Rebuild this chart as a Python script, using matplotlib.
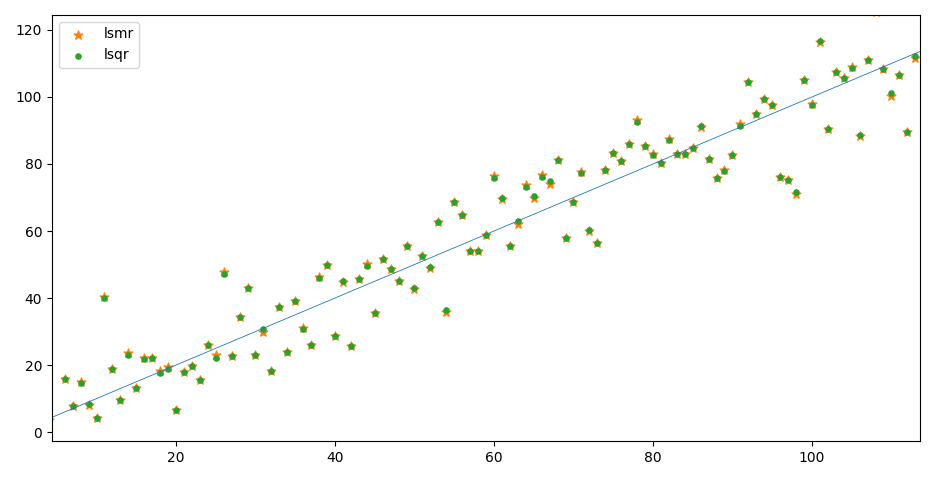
import numpy as np
from matplotlib import pyplot as plt

# x positions of the samples (x=5 has no visible point)
x = np.arange(4, 114)
nan = np.nan

# lsmr solution values (orange stars)
y_lsmr = [3.6, nan, 15.8, 7.8, 14.8, 8.2, 4.2, 40.2, 18.8, 9.6,
          23.6, 13.3, 22.0, 22.0, 18.2, 19.4, 6.7, 17.9, 19.7, 15.5,
          26.1, 22.9, 47.7, 22.7, 34.3, 43.0, 22.9, 29.9, 18.3, 37.4,
          23.9, 39.2, 31.2, 26.1, 46.2, 49.9, 28.7, 44.8, 25.8, 45.7,
          50.1, 35.4, 51.7, 48.7, 45.0, 55.4, 42.6, 52.5, 49.1, 62.6,
          35.7, 68.7, 64.9, 54.1, 54.0, 58.7, 76.5, 69.5, 55.6, 62.2,
          73.7, 70.0, 76.6, 74.0, 81.1, 58.0, 68.7, 77.6, 59.9, 56.3,
          78.2, 83.3, 81.0, 86.1, 93.2, 85.4, 82.9, 80.2, 87.6, 82.9,
          82.9, 84.7, 91.0, 81.5, 75.9, 78.3, 82.6, 91.9, 104.4, 95.0,
          99.5, 97.5, 76.2, 75.3, 71.0, 105.0, 97.8, 116.4, 90.4, 107.4,
          105.8, 109.0, 88.4, 111.0, 125.3, 108.4, 100.3, 106.6, 89.6, 111.6]

# lsqr solution values (green dots)
y_lsqr = [3.6, nan, 15.7, 7.8, 14.7, 8.4, 4.2, 40.1, 18.7, 9.6,
          23.1, 13.2, 21.9, 22.0, 17.6, 18.8, 6.7, 17.8, 19.6, 15.5,
          26.0, 22.2, 47.2, 22.7, 34.3, 42.9, 22.9, 30.7, 18.3, 37.4,
          23.9, 39.2, 30.7, 26.1, 46.1, 49.8, 28.7, 45.2, 25.7, 45.7,
          49.6, 35.4, 51.6, 48.6, 45.0, 55.4, 43.1, 52.5, 49.2, 62.6,
          36.5, 68.6, 64.8, 54.1, 54.1, 58.7, 75.8, 69.9, 55.5, 62.9,
          73.1, 70.4, 76.1, 74.8, 81.1, 58.0, 68.7, 77.3, 60.2, 56.3,
          78.2, 83.2, 80.9, 86.1, 92.5, 85.4, 82.8, 80.2, 87.2, 82.9,
          82.9, 84.7, 91.4, 81.5, 75.9, 77.9, 82.6, 91.3, 104.4, 95.0,
          99.4, 97.5, 76.2, 75.3, 71.7, 105.0, 97.7, 116.7, 90.4, 107.5,
          105.8, 108.7, 88.7, 111.0, 126.0, 108.4, 101.2, 106.6, 89.6, 112.3]

# reference line y = slope*x + intercept
slope = 1.0
intercept = 0.0
x_lim = (4.4, 113.6)
y_lim = (-2.7, 124.5)

fig = plt.figure(figsize=(9.35, 4.8), dpi=100)
ax = fig.add_axes([0.0556, 0.081, 0.9284, 0.888])

line_x = np.array(x_lim)
ax.plot(line_x, slope*line_x + intercept, color='C0', linewidth=0.6)
ax.scatter(x, y_lsmr, marker='*', color='C1', s=42, label='lsmr')
ax.scatter(x, y_lsqr, marker='.', color='C2', s=55, label='lsqr')

ax.set_xlim(x_lim)
ax.set_ylim(y_lim)
ax.legend(loc='upper left')

fig.savefig('out.png')
